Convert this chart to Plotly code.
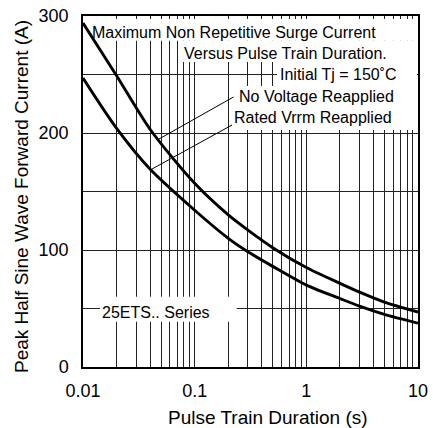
import plotly.graph_objects as go

# ---- data ----
duration_s = [0.01, 0.02, 0.04, 0.1, 0.2, 0.3, 0.5, 1, 2, 3, 5, 10]
no_voltage_A = [294, 249, 203, 157, 130, 117, 102, 85, 71.5, 64, 55.5, 47]
rated_vrrm_A = [247, 204, 169, 134, 110, 98.5, 86, 70, 58.5, 52, 45, 37.5]

x_major_ticks = [0.01, 0.1, 1, 10]
x_major_labels = ["0.01", "0.1", "1", "10"]
y_major_ticks = [0, 100, 200, 300]
y_major_labels = ["0", "100", "200", "300"]

# grid positions (log minor lines and 50 A steps)
x_grid = sorted(set([round(m * 10 ** e, 4) for e in (-2, -1, 0) for m in range(1, 10)] + [10]))
x_text = [x_major_labels[x_major_ticks.index(v)] if v in x_major_ticks else "" for v in x_grid]
y_grid = list(range(0, 301, 50))
y_text = [y_major_labels[y_major_ticks.index(v)] if v in y_major_ticks else "" for v in y_grid]

W, H = 433, 428
L, R, T, B = 83, 418, 16, 367
FONT = "Liberation Sans, Arial, sans-serif"


def px_x(X):
    return 10 ** (-2 + 3 * (X - L) / (R - L))


def px_y(Y):
    return 300 * (B - Y) / (B - T)


def pap_x(X):
    return (X - L) / (R - L)


def pap_y(Y):
    return (B - Y) / (B - T)


fig = go.Figure()
for vals in (no_voltage_A, rated_vrrm_A):
    fig.add_trace(go.Scatter(
        x=duration_s, y=vals, mode="lines",
        line=dict(color="black", width=2.9, shape="spline", smoothing=0.8),
        hoverinfo="skip", showlegend=False))

shapes = []
# white label backgrounds (hide grid only)
for (x0, x1, y0, y1) in [(88, 417, 19, 40.7), (180, 417, 40.7, 62), (277, 417, 62, 86),
                         (233, 417, 86, 130), (100, 236.7, 296.7, 321.7)]:
    shapes.append(dict(type="rect", xref="x", yref="y", layer="between",
                       x0=px_x(x0), x1=px_x(x1), y0=px_y(y1), y1=px_y(y0),
                       fillcolor="white", line=dict(width=0)))
# leader lines
for (x0, y0, x1, y1) in [(159, 139, 233.5, 97), (152, 169, 232, 125)]:
    shapes.append(dict(type="line", xref="x", yref="y", layer="above",
                       x0=px_x(x0), y0=px_y(y0), x1=px_x(x1), y1=px_y(y1),
                       line=dict(color="black", width=1)))

annotations = []
labels = [
    ("Maximum Non Repetitive Surge Current", 91, 32.5),
    ("Versus Pulse Train Duration.", 182.5, 53.2),
    ("Initial Tj = 150˚C", 279, 74.8),
    ("No Voltage Reapplied", 237.5, 96),
    ("Rated Vrrm Reapplied", 232.5, 117.3),
    ("25ETS.. Series", 100.5, 312.5),
]
for txt, X, Y in labels:
    annotations.append(dict(text=txt, xref="paper", yref="paper", x=pap_x(X), y=pap_y(Y),
                            xanchor="left", yanchor="middle", showarrow=False,
                            borderpad=0, font=dict(family=FONT, size=16, color="black")))
annotations.append(dict(text="Pulse Train Duration (s)", xref="paper", yref="paper",
                        x=pap_x(267.5), y=pap_y(417.5), xanchor="center", yanchor="middle",
                        showarrow=False, font=dict(family=FONT, size=19, color="black")))
annotations.append(dict(text="Peak Half Sine Wave Forward Current (A)", xref="paper", yref="paper",
                        x=pap_x(21.5), y=pap_y(196.5), xanchor="center", yanchor="middle",
                        textangle=-90, showarrow=False,
                        font=dict(family=FONT, size=19, color="black")))

fig.update_layout(
    width=W, height=H,
    margin=dict(l=L, r=W - R, t=T, b=H - B, pad=0, autoexpand=False),
    paper_bgcolor="white", plot_bgcolor="white",
    font=dict(family=FONT, size=18, color="black"),
    shapes=shapes, annotations=annotations,
    xaxis=dict(type="log", range=[-2, 1], tickmode="array", tickvals=x_grid, ticktext=x_text,
               automargin=False,
               showgrid=True, gridcolor="#222", gridwidth=1, zeroline=False,
               showline=True, mirror=True, linecolor="black", linewidth=1.5,
               ticks="", ticklabelstandoff=7, tickfont=dict(size=18)),
    yaxis=dict(range=[0, 300], tickmode="array", tickvals=y_grid, ticktext=y_text,
               automargin=False,
               showgrid=True, gridcolor="#222", gridwidth=1, zeroline=False,
               showline=True, mirror=True, linecolor="black", linewidth=1.5,
               ticks="", ticklabelstandoff=9, tickfont=dict(size=18)),
)

fig.write_html("out.html", config={"displayModeBar": False},
               post_script="document.body.style.margin='0';document.body.style.overflow='hidden';")
